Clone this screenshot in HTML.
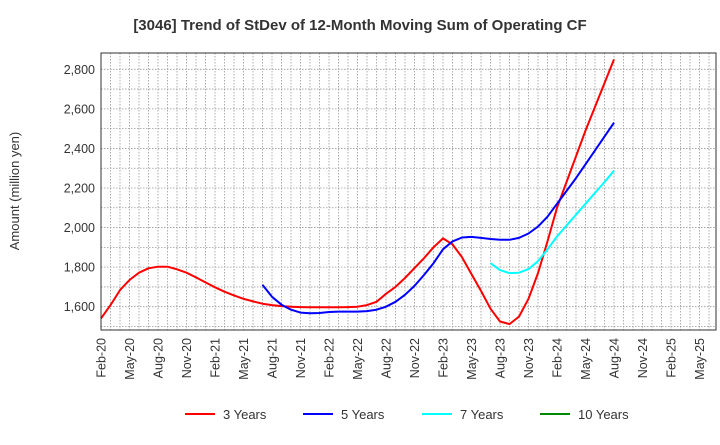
<!DOCTYPE html>
<html><head><meta charset="utf-8"><style>
body{margin:0;background:#fff;font-family:"Liberation Sans",sans-serif}
</style></head><body>
<svg id="c" width="720" height="440" xmlns="http://www.w3.org/2000/svg" font-family="Liberation Sans, sans-serif">
<text x="360" y="30" text-anchor="middle" font-size="15" font-weight="bold" fill="#333">[3046]  Trend of StDev of 12-Month Moving Sum of Operating CF</text>
<text transform="translate(19,191) rotate(-90)" text-anchor="middle" font-size="13" fill="#333">Amount (million yen)</text>
<g id="grid"></g><g id="series"></g><g id="axes"></g>
<g id="legend"></g>
</svg>
<script>
const xLabels=["Feb-20","May-20","Aug-20","Nov-20","Feb-21","May-21","Aug-21","Nov-21","Feb-22","May-22","Aug-22","Nov-22","Feb-23","May-23","Aug-23","Nov-23","Feb-24","May-24","Aug-24","Nov-24","Feb-25","May-25"];
const yTicks=[1600,1800,2000,2200,2400,2600,2800];
const s3Start=0;
const s3=[1541,1608,1684,1735,1772,1794,1802,1802,1789,1772,1748,1723,1698,1676,1657,1640,1627,1615,1608,1603,1600,1598,1597,1597,1597,1597,1598,1600,1608,1625,1665,1700,1745,1795,1845,1900,1945,1915,1850,1765,1680,1590,1525,1512,1550,1640,1770,1930,2100,2230,2360,2490,2610,2730,2850];
const s5Start=17;
const s5=[1710,1650,1610,1585,1570,1567,1568,1573,1575,1575,1575,1578,1585,1600,1625,1660,1705,1760,1820,1890,1930,1950,1953,1948,1942,1938,1938,1948,1970,2005,2055,2120,2185,2250,2320,2390,2460,2530];
const s7Start=41;
const s7=[1820,1785,1770,1772,1790,1830,1890,1955,2010,2065,2120,2175,2230,2288];
const s10=[];
const L=101,R=716,T=53,B=330,PM=9.5;
const X=m=>L+m*PM;
const Y=v=>306.7-(v-1600)*(306.7-69.3)/1200;
const ns="http://www.w3.org/2000/svg";
function mk(p,t,a){const e=document.createElementNS(ns,t);for(const k in a)e.setAttribute(k,a[k]);p.appendChild(e);return e;}
const g=document.getElementById('grid');
for(let m=1;X(m)<R;m++){const l=mk(g,'line',{x1:X(m),x2:X(m),y1:T,y2:B,stroke:'#999','stroke-width':0.8,'stroke-dasharray':'1.5,1.5'});

}
const ax=document.getElementById('axes');
for(let v=1500;v<=2850;v+=100){const yy=Y(v);if(yy<T||yy>B)continue;const l=mk(g,'line',{x1:L,x2:R,y1:yy,y2:yy,stroke:'#999','stroke-width':0.8,'stroke-dasharray':'1.5,1.5'});

}
yTicks.forEach(v=>{const t=mk(ax,'text',{x:L-6,y:Y(v)+4.5,'text-anchor':'end','font-size':12.5,fill:'#333'});t.textContent=v.toLocaleString('en-US');

});
xLabels.forEach((s,i)=>{const x=X(i*3);const t=mk(ax,'text',{transform:`translate(${x+4.5},${B+8}) rotate(-90)`,'text-anchor':'end','font-size':12.5,fill:'#333'});t.textContent=s;

});
const fr=mk(ax,'rect',{x:L,y:T,width:R-L,height:B-T,fill:'none',stroke:'#333','stroke-width':1});


const sg=document.getElementById('series');
function line(arr,start,col,name){if(!arr.length)return;const pts=arr.map((v,i)=>X(start+i).toFixed(1)+','+Y(v).toFixed(1)).join(' ');
const p=mk(sg,'polyline',{points:pts,fill:'none',stroke:col,'stroke-width':2,'stroke-linejoin':'round'});

}
line(s3,s3Start,'#f00','line-3-years');
line(s5,s5Start,'#00f','line-5-years');
line(s7,s7Start,'#0ff','line-7-years');
line(s10,0,'#080','line-10-years');
const lg=document.getElementById('legend');
[["3 Years","#f00",185],["5 Years","#00f",303],["7 Years","#0ff",422],["10 Years","#080",540]].forEach(([s,c,x])=>{
const l=mk(lg,'line',{x1:x,x2:x+30,y1:414,y2:414,stroke:c,'stroke-width':2});


const t=mk(lg,'text',{x:x+38,y:419,'font-size':13,fill:'#333'});t.textContent=s;

});
</script>
</body></html>
